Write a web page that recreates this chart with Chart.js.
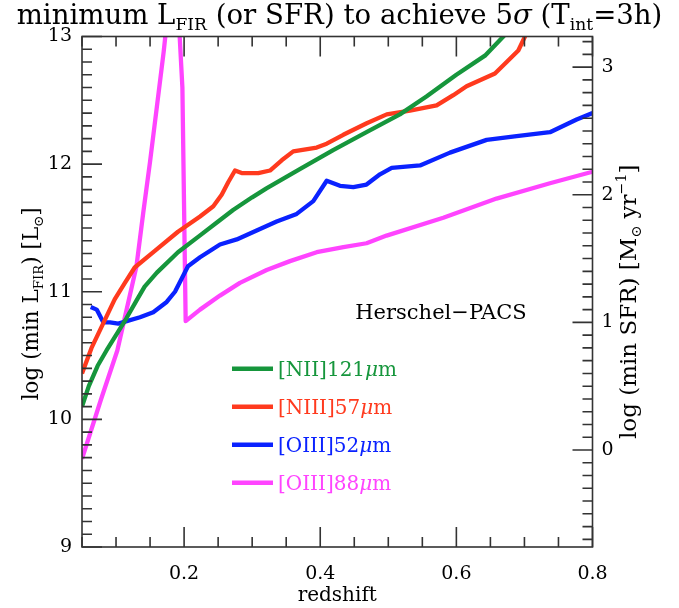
<!DOCTYPE html>
<html>
<head>
<meta charset="utf-8">
<script src="https://cdn.jsdelivr.net/npm/chart.js@4/dist/chart.umd.min.js"></script>
<style>
  html,body{margin:0;padding:0;background:#fff;}
  #wrap{position:relative;width:679px;height:608px;}
</style>
</head>
<body>
<div id="wrap"><canvas id="c" width="679" height="608"></canvas></div>
<script>
// ---- data ----
const SFR_OFFSET = 9.76; // log SFR = log L_FIR - 9.76

const n2z = [0.05,0.06,0.073,0.086,0.1,0.115,0.13,0.142,0.16,0.191,0.223,0.25,0.272,0.3,0.321,0.37,0.419,0.468,0.517,0.556,0.6,0.642,0.669,0.69];
const n2v = [10.10,10.26,10.42,10.54,10.66,10.79,10.93,11.04,11.15,11.31,11.44,11.55,11.64,11.74,11.81,11.96,12.11,12.25,12.39,12.53,12.70,12.85,13.0,13.12];

const n3z = [0.05,0.064,0.081,0.098,0.113,0.1274,0.157,0.191,0.2234,0.2429,0.2552,0.265,0.2748,0.2846,0.309,0.3262,0.3434,0.3604,0.3948,0.4095,0.4339,0.4683,0.4977,0.5318,0.571,0.5955,0.615,0.6567,0.6739,0.691,0.7008,0.71];
const n3v = [10.36,10.56,10.75,10.94,11.07,11.19,11.32,11.47,11.59,11.67,11.76,11.86,11.95,11.93,11.93,11.95,12.03,12.10,12.13,12.16,12.23,12.32,12.39,12.42,12.46,12.54,12.61,12.71,12.80,12.89,13.0,13.08];

const o52z = [0.0628,0.0716,0.0775,0.0813,0.0911,0.1033,0.1157,0.1352,0.1547,0.1744,0.1866,0.2057,0.2234,0.2527,0.2773,0.3066,0.336,0.3654,0.3898,0.4095,0.429,0.4486,0.468,0.4878,0.505,0.5466,0.5906,0.6445,0.6886,0.7375,0.7767,0.80];
const o52v = [10.88,10.86,10.80,10.76,10.76,10.75,10.77,10.80,10.84,10.92,11.00,11.20,11.27,11.37,11.41,11.48,11.55,11.61,11.71,11.87,11.83,11.82,11.84,11.92,11.97,11.99,12.09,12.19,12.22,12.25,12.35,12.40];

const o88z = [0.05,0.0775,0.1019,0.13,0.14,0.15,0.16,0.17,0.1724,0.183,0.1935,0.1975,0.2023,0.2234,0.2527,0.282,0.3213,0.3556,0.3948,0.434,0.468,0.4975,0.5808,0.659,0.7375,0.80];
const o88v = [9.69,10.15,10.54,11.20,11.62,12.02,12.45,12.88,13.0,13.5,13.0,12.6,10.77,10.86,10.97,11.07,11.17,11.24,11.31,11.35,11.38,11.44,11.58,11.73,11.85,11.94];

const seriesLabels = ['[NII]121μm','[NIII]57μm','[OIII]52μm','[OIII]88μm'];
const seriesColors = ['#16963c','#ff3a1e','#0a22ff','#ff44ff'];

const xTickValues = [0.2,0.4,0.6,0.8];
const yTickValues = [9,10,11,12,13];
const sfrTickValues = [0,1,2,3];

// ---- helpers ----
const FAM = '"DejaVu Serif", "DejaVu Sans", serif';
function fontFor(p,size){
  const s = (p.sub||p.sup) ? size*0.62 : size;
  return (p.it?'italic ':'') + s + 'px ' + FAM;
}
function richWidth(ctx,parts,size){
  let w=0; for(const p of parts){ctx.font=fontFor(p,size); w+=ctx.measureText(p.t).width;} return w;
}
function drawRich(ctx,parts,x,y,size,align,color){
  ctx.save();
  ctx.textBaseline='alphabetic'; ctx.textAlign='left'; ctx.fillStyle=color||'#000';
  let cx = x;
  const w = richWidth(ctx,parts,size);
  if(align==='center') cx = x - w/2; else if(align==='right') cx = x - w;
  for(const p of parts){
    ctx.font=fontFor(p,size);
    const dy = p.sub ? size*0.22 : (p.sup ? -size*0.42 : 0);
    ctx.fillText(p.t,cx,y+dy);
    cx += ctx.measureText(p.t).width;
  }
  ctx.restore();
}
function labelParts(s){
  const i = s.indexOf('μ');
  return [{t:s.slice(0,i)},{t:'μ',it:true},{t:s.slice(i+1)}];
}

const mk = (zs,vs)=>zs.map((z,i)=>({x:z,y:vs[i]}));
const dsData = [mk(n2z,n2v),mk(n3z,n3v),mk(o52z,o52v),mk(o88z,o88v)];

// ---- plugin: frame, inward ticks, title, axis titles, legend, annotation ----
const decor = {
  id:'decor',
  afterDraw(chart){
    const ctx = chart.ctx, ca = chart.chartArea;
    const xs = chart.scales.x, ys = chart.scales.y, y2 = chart.scales.y2;
    ctx.save();
    ctx.strokeStyle='#333'; ctx.lineWidth=1.6;
    ctx.strokeRect(ca.left,ca.top,ca.right-ca.left,ca.bottom-ca.top);
    ctx.beginPath();
    for(let k=1;k<=16;k++){
      const z = k*0.05;
      if(z<0.05-1e-9||z>0.8+1e-9) continue;
      const px = xs.getPixelForValue(z);
      const major = Math.abs(z/0.2-Math.round(z/0.2))<1e-6;
      const L = major?20:10;
      ctx.moveTo(px,ca.bottom); ctx.lineTo(px,ca.bottom-L);
      ctx.moveTo(px,ca.top); ctx.lineTo(px,ca.top+L);
    }
    for(let k=90;k<=130;k++){
      const v=k/10; const py=ys.getPixelForValue(v);
      const L = (k%10===0)?20:10;
      ctx.moveTo(ca.left,py); ctx.lineTo(ca.left+L,py);
    }
    for(let k=-7;k<=32;k++){
      const v=k/10; const py=y2.getPixelForValue(v);
      if(py<ca.top-0.5||py>ca.bottom+0.5) continue;
      const L = (k%10===0)?20:10;
      ctx.moveTo(ca.right,py); ctx.lineTo(ca.right-L,py);
    }
    ctx.stroke();
    ctx.restore();

    // title
    drawRich(ctx,[{t:'minimum L'},{t:'FIR',sub:true},{t:' (or SFR) to achieve 5'},{t:'σ',it:true},{t:' (T'},{t:'int',sub:true},{t:'=3h)'}],339.5,24,27.6,'center');

    // left axis title (rotated)
    ctx.save();
    ctx.translate(38,(ca.top+ca.bottom)/2+12);
    ctx.rotate(-Math.PI/2);
    drawRich(ctx,[{t:'log (min L'},{t:'FIR',sub:true},{t:') [L'},{t:'⊙',sub:true},{t:']'}],0,0,21.5,'center');
    ctx.restore();
    // right axis title
    ctx.save();
    ctx.translate(636,(ca.top+ca.bottom)/2+10);
    ctx.rotate(-Math.PI/2);
    drawRich(ctx,[{t:'log (min SFR) [M'},{t:'⊙',sub:true},{t:' yr'},{t:'−1',sup:true},{t:']'}],0,0,23,'center');
    ctx.restore();

    // annotation
    drawRich(ctx,[{t:'Herschel−PACS'}],ca.left+359,ca.top+282,21,'center');

    // legend
    const lx = ca.left+150, ly0 = ca.top+332.2, step=38;
    chart.data.datasets.forEach((ds,i)=>{
      const y = ly0 + i*step;
      ctx.save();
      ctx.strokeStyle=ds.borderColor; ctx.lineWidth=4.5;
      ctx.beginPath(); ctx.moveTo(lx,y); ctx.lineTo(lx+41,y); ctx.stroke();
      ctx.restore();
      drawRich(ctx,labelParts(ds.label),lx+46,y+7,20,'left',ds.borderColor);
    });
  }
};

const tickFont = {family:FAM,size:19,lineHeight:1};

new Chart(document.getElementById('c'),{
  type:'line',
  data:{datasets:dsData.map((d,i)=>({
    label:seriesLabels[i], data:d, borderColor:seriesColors[i], backgroundColor:seriesColors[i],
    borderWidth:4.3, pointRadius:0, tension:0, clip:0, fill:false, borderJoinStyle:'round', borderCapStyle:'butt'
  }))},
  options:{
    responsive:false, animation:false, devicePixelRatio:1,
    layout:{padding:{top:36.5,left:0,right:0,bottom:0}},
    plugins:{legend:{display:false},tooltip:{enabled:false},title:{display:false}},
    scales:{
      x:{type:'linear',min:0.05,max:0.8,
        afterBuildTicks:s=>{s.ticks=xTickValues.map(v=>({value:v}));},
        afterFit:s=>{s.height=61;},
        grid:{display:false,drawTicks:false}, border:{display:false},
        ticks:{padding:17.5,font:tickFont,color:'#000',maxRotation:0,callback:v=>v.toFixed(1)},
        title:{display:true,text:'redshift',color:'#000',font:{family:FAM,size:20,lineHeight:1},padding:{top:0,bottom:2}}
      },
      y:{type:'linear',position:'left',min:9,max:13,
        afterBuildTicks:s=>{s.ticks=yTickValues.map(v=>({value:v}));},
        afterFit:s=>{s.width=82;},
        grid:{display:false,drawTicks:false}, border:{display:false},
        ticks:{padding:10,font:tickFont,color:'#000',callback:v=>String(v)}
      },
      y2:{type:'linear',position:'right',min:9-SFR_OFFSET,max:13-SFR_OFFSET,
        afterBuildTicks:s=>{s.ticks=sfrTickValues.map(v=>({value:v}));},
        afterFit:s=>{s.width=86.5;},
        grid:{display:false,drawTicks:false}, border:{display:false},
        ticks:{padding:9,font:tickFont,color:'#000',callback:v=>String(v)}
      }
    }
  },
  plugins:[decor]
});
</script>
</body>
</html>
